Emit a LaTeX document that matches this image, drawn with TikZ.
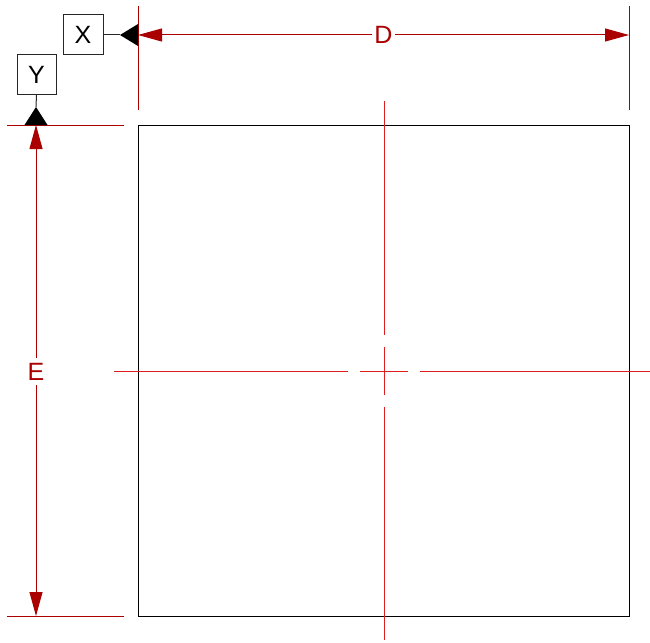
\documentclass[tikz,border=0pt]{standalone}
\usepackage{fontspec}
\setmainfont{Liberation Sans}
\usetikzlibrary{arrows.meta}
\definecolor{dimred}{RGB}{170,0,0}
\definecolor{cenred}{RGB}{220,30,30}
\begin{document}
\begin{tikzpicture}[x=1pt,y=-1pt,
  dimline/.style={draw=dimred,line width=1pt,{Triangle[length=24pt,width=13pt]}-{Triangle[length=24pt,width=13pt]}},
  extline/.style={draw=dimred,line width=1pt},
  cenline/.style={draw=cenred,line width=1pt},
  dimlabel/.style={fill=white,text=dimred,inner sep=2pt,font=\fontsize{25}{30}\selectfont},
  datumbox/.style={draw=black!85,line width=1pt,fill=white,minimum width=40pt,minimum height=40pt,inner sep=0pt,font=\fontsize{25}{30}\selectfont},
  datumtri/.style={fill=black,draw=none}]
\useasboundingbox (0,0) rectangle (650,642);
% part outline
\node[draw=black,line width=1pt,minimum width=491pt,minimum height=491pt,inner sep=0pt] (sq) at (383.5,370.5) {};
% centre lines
\draw[cenline] (384,101) -- (384,335);
\draw[cenline] (384,347) -- (384,395);
\draw[cenline] (384,407) -- (384,640);
\draw[cenline] (114,371) -- (348,371);
\draw[cenline] (360,371) -- (408,371);
\draw[cenline] (420,371) -- (650,371);
% extension lines
\coordinate (dl) at (138,35);
\coordinate (dr) at (629,35);
\coordinate (et) at (36,125);
\coordinate (eb) at (36,616);
\draw[extline] (138,6) -- (138,110);
\draw[extline] (629,6) -- (629,110);
\draw[extline] (7,125) -- (124,125);
\draw[extline] (7,616) -- (124,616);
% dimensions
\draw[dimline] (dl) -- (dr);
\node[dimlabel] (D) at (383.5,35) {D};
\draw[dimline] (et) -- (eb);
\node[dimlabel,inner xsep=1pt,inner ysep=5pt] (E) at (36,371.5) {E};
% datums
\node[datumbox] (X) at (83,35) {X};
\node[datumbox,minimum width=39pt,minimum height=39pt] (Y) at (36.5,74.5) {Y};
\coordinate (xtip) at (120,35);
\coordinate (ytip) at (36,107);
\draw[black!85,line width=1pt] (X.east) -- (xtip);
\draw[black!85,line width=1pt] (Y.south) -- (ytip);
\fill[datumtri] (xtip) -- (138,24) -- (138,46) -- cycle;
\fill[datumtri] (ytip) -- (24.5,125) -- (47.5,125) -- cycle;
\end{tikzpicture}
\end{document}
